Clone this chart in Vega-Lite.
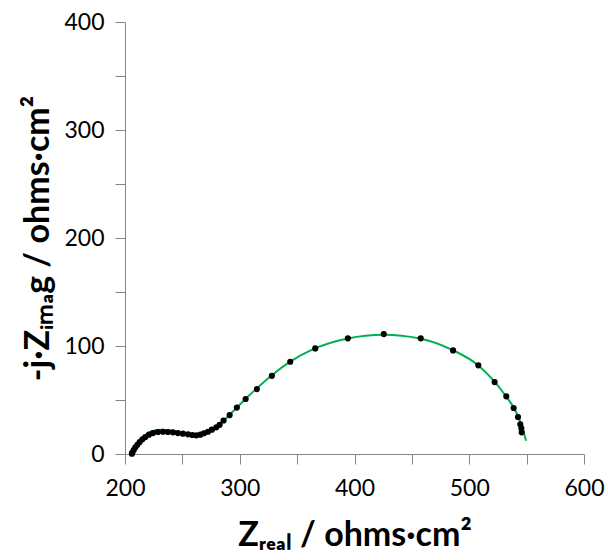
{
  "$schema": "https://vega.github.io/schema/vega-lite/v6.json",
  "width": 459,
  "height": 432,
  "autosize": {"type": "none"},
  "padding": {"left": 125, "top": 22, "right": 24, "bottom": 106},
  "background": "white",
  "config": {"view": {"stroke": null}, "font": "Lato"},
  "datasets": {
    "points": [
      {"zreal": 206.0, "zimag": 0.3},
      {"zreal": 206.4, "zimag": 1.2},
      {"zreal": 207.6, "zimag": 3.7},
      {"zreal": 209.0, "zimag": 6.2},
      {"zreal": 210.8, "zimag": 8.6},
      {"zreal": 212.8, "zimag": 11.1},
      {"zreal": 215.1, "zimag": 13.6},
      {"zreal": 217.7, "zimag": 15.7},
      {"zreal": 220.9, "zimag": 17.9},
      {"zreal": 224.4, "zimag": 19.4},
      {"zreal": 228.7, "zimag": 20.4},
      {"zreal": 233.1, "zimag": 20.6},
      {"zreal": 237.4, "zimag": 20.4},
      {"zreal": 241.8, "zimag": 20.1},
      {"zreal": 246.1, "zimag": 19.4},
      {"zreal": 250.5, "zimag": 18.8},
      {"zreal": 254.9, "zimag": 18.2},
      {"zreal": 258.7, "zimag": 17.6},
      {"zreal": 262.2, "zimag": 17.3},
      {"zreal": 265.7, "zimag": 17.9},
      {"zreal": 268.8, "zimag": 19.2},
      {"zreal": 272.3, "zimag": 20.6},
      {"zreal": 275.7, "zimag": 22.5},
      {"zreal": 279.6, "zimag": 24.7},
      {"zreal": 282.5, "zimag": 27.0},
      {"zreal": 285.9, "zimag": 31.0},
      {"zreal": 291.2, "zimag": 36.0},
      {"zreal": 297.5, "zimag": 43.0},
      {"zreal": 305.1, "zimag": 50.9},
      {"zreal": 314.9, "zimag": 60.1},
      {"zreal": 328.0, "zimag": 72.4},
      {"zreal": 344.0, "zimag": 85.4},
      {"zreal": 365.8, "zimag": 97.8},
      {"zreal": 394.2, "zimag": 107.1},
      {"zreal": 425.5, "zimag": 111.0},
      {"zreal": 457.7, "zimag": 107.1},
      {"zreal": 485.9, "zimag": 95.9},
      {"zreal": 507.9, "zimag": 82.1},
      {"zreal": 522.1, "zimag": 66.6},
      {"zreal": 532.3, "zimag": 53.4},
      {"zreal": 538.7, "zimag": 42.6},
      {"zreal": 542.5, "zimag": 34.2},
      {"zreal": 544.5, "zimag": 27.5},
      {"zreal": 545.4, "zimag": 23.8},
      {"zreal": 545.7, "zimag": 20.1}
    ],
    "fit": [
      {"zreal": 205.5, "zimag": 0},
      {"zreal": 207, "zimag": 3.5},
      {"zreal": 209, "zimag": 7},
      {"zreal": 212, "zimag": 11.5},
      {"zreal": 215, "zimag": 15},
      {"zreal": 219, "zimag": 18.5},
      {"zreal": 223, "zimag": 20.8},
      {"zreal": 228, "zimag": 22.2},
      {"zreal": 233, "zimag": 22.5},
      {"zreal": 238, "zimag": 22},
      {"zreal": 243, "zimag": 21},
      {"zreal": 248, "zimag": 19.8},
      {"zreal": 253, "zimag": 18.7},
      {"zreal": 258, "zimag": 17.8},
      {"zreal": 263, "zimag": 17.3},
      {"zreal": 267, "zimag": 17.6},
      {"zreal": 271, "zimag": 19},
      {"zreal": 275, "zimag": 21.5},
      {"zreal": 280, "zimag": 25.5},
      {"zreal": 285, "zimag": 30},
      {"zreal": 290, "zimag": 35},
      {"zreal": 297, "zimag": 42.5},
      {"zreal": 305, "zimag": 51},
      {"zreal": 315, "zimag": 61},
      {"zreal": 328, "zimag": 73},
      {"zreal": 344, "zimag": 85.5},
      {"zreal": 365, "zimag": 97.5},
      {"zreal": 394, "zimag": 107},
      {"zreal": 425, "zimag": 110.5},
      {"zreal": 457, "zimag": 107},
      {"zreal": 486, "zimag": 96},
      {"zreal": 508, "zimag": 82},
      {"zreal": 522, "zimag": 67},
      {"zreal": 532, "zimag": 53.5},
      {"zreal": 539, "zimag": 42.5},
      {"zreal": 543, "zimag": 34},
      {"zreal": 546, "zimag": 25},
      {"zreal": 548, "zimag": 18},
      {"zreal": 549.5, "zimag": 12.3}
    ]
  },
  "encoding": {
    "x": {
      "field": "zreal",
      "type": "quantitative",
      "scale": {"domain": [200, 600], "nice": false, "zero": false},
      "axis": {
        "title": "Zᵣₑₐₗ / ohms·cm²",
        "values": [200, 250, 300, 350, 400, 450, 500, 550, 600],
        "labelExpr": "datum.value % 100 === 0 ? datum.label : ''",
        "grid": false,
        "domainColor": "#868686",
        "tickColor": "#868686",
        "tickSize": 10,
        "labelFontSize": 23,
        "labelColor": "#000000",
        "labelPadding": 13,
        "labelFlush": false,
        "labelOverlap": false,
        "titleFontSize": 34,
        "titleFontWeight": "bold",
        "titleColor": "#000000",
        "titlePadding": 18
      }
    },
    "y": {
      "field": "zimag",
      "type": "quantitative",
      "scale": {"domain": [0, 400], "nice": false},
      "axis": {
        "title": "-j·Zᵢₘₐg / ohms·cm²",
        "values": [0, 50, 100, 150, 200, 250, 300, 350, 400],
        "labelExpr": "datum.value % 100 === 0 ? datum.label : ''",
        "grid": false,
        "domainColor": "#868686",
        "tickColor": "#868686",
        "tickSize": 10,
        "labelFontSize": 23,
        "labelColor": "#000000",
        "labelPadding": 11,
        "labelFlush": false,
        "labelOverlap": false,
        "titleFontSize": 34,
        "titleFontWeight": "bold",
        "titleColor": "#000000",
        "titlePadding": 8
      }
    }
  },
  "layer": [
    {
      "data": {"name": "fit"},
      "mark": {"type": "line", "color": "#00b050", "strokeWidth": 2, "interpolate": "monotone"}
    },
    {
      "data": {"name": "points"},
      "mark": {"type": "circle", "color": "#000000", "size": 38, "opacity": 1}
    }
  ]
}
